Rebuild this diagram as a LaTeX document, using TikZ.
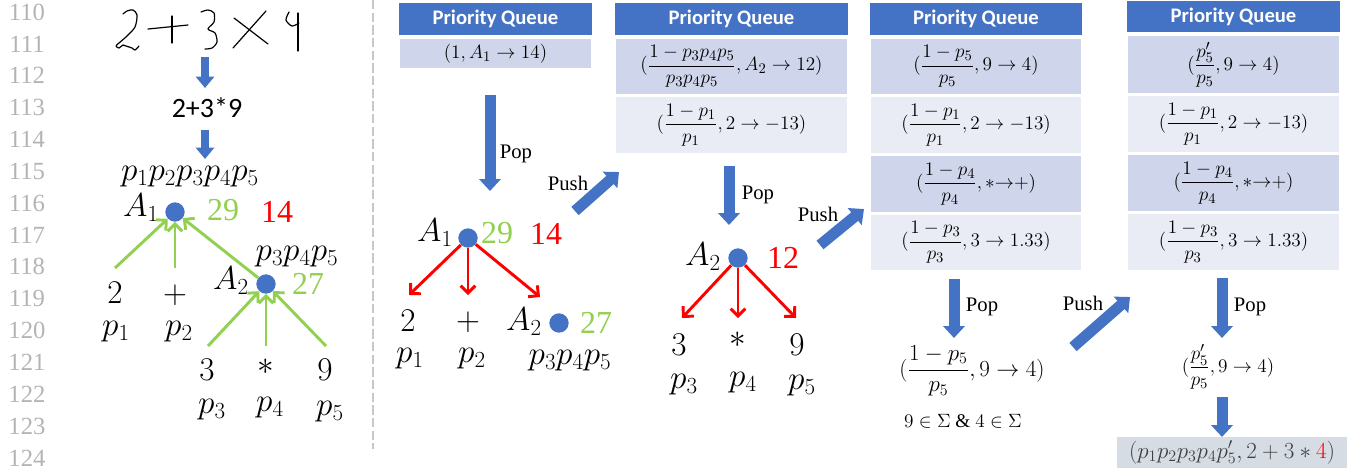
\documentclass[tikz,border=0pt]{standalone}
\usepackage{amsmath}
\usepackage{fontspec}
\setmainfont{Liberation Serif}
\newfontfamily\calfont{Carlito}
\usetikzlibrary{arrows.meta}
\definecolor{oblue}{HTML}{4472C4}
\definecolor{rowdark}{HTML}{CFD5EA}
\definecolor{rowlight}{HTML}{E9EBF5}
\definecolor{ogreen}{HTML}{92D050}
\definecolor{ored}{HTML}{FF0000}
\definecolor{lngray}{HTML}{B4B4B4}
\definecolor{dashgray}{HTML}{C8C8C8}
\definecolor{finfill}{HTML}{D6DCE4}
\definecolor{fintext}{HTML}{404040}
\newcommand{\myfs}[1]{\fontsize{#1}{#1}\selectfont}
\begin{document}
\begin{tikzpicture}[x=0.75pt,y=-0.75pt,
  lnum/.style={text=lngray,font=\myfs{18.5}},
  box/.style 2 args={minimum width={#1*0.75pt},minimum height={#2*0.75pt},inner sep=0pt,outer sep=0pt},
  hdr/.style={fill=oblue,text=white,font=\calfont\bfseries\myfs{15.5}},
  rowd/.style={fill=rowdark,draw=white,line width=0.8pt,font=\myfs{15.8}},
  rowl/.style={fill=rowlight,draw=white,line width=0.8pt,font=\myfs{15.8}},
  blk/.style={line width=8.25pt,draw=oblue,line cap=butt,-{Triangle[width=16pt,length=9pt]}},
  blks/.style={line width=6pt,draw=oblue,line cap=butt,-{Triangle[width=13.5pt,length=8.5pt]}},
  garr/.style={draw=ogreen,line width=2.2pt,-{Straight Barb[length=5.5pt,width=11pt]}},
  rarr/.style={draw=ored,line width=2.2pt,-{Straight Barb[length=5.5pt,width=11pt]}},
  dot/.style={circle,fill=oblue,minimum size=14.5pt,inner sep=0pt},
  tt/.style={font=\myfs{24.5},inner sep=0pt},
  num/.style={font=\myfs{24},inner sep=0pt},
  lbl/.style={font=\myfs{15.5},inner sep=0pt},
  hand/.style={draw=black,line width=0.9pt,line cap=round,line join=round}
]
\useasboundingbox (0,0) rectangle (1347,469);
% line numbers
\foreach \n [count=\i from 0] in {110,...,124}{
  \node[lnum] (ln\n) at (27,{12+31.86*\i}) {\n};
}
% dashed separator
\draw[dashgray,line width=2pt,dash pattern=on 7pt off 2.5pt] (373,0) -- (373,449);

% ---------- left part ----------
% handwriting 2+3x4
\draw[hand] plot[smooth] coordinates {(123,14) (127,11) (133,10) (137,15) (135,27) (127,36) (119,43) (116,46) (119,48) (123,45) (126,46) (132,48) (135,50) (139,46)};
\draw[hand] (148,29) -- (188,25);
\draw[hand] (172,16) -- (172,43);
\draw[hand] plot[smooth] coordinates {(201,12) (208,10) (214,13) (214,22) (208,29) (215,33) (217,42) (212,48) (205,49)};
\draw[hand] (233,48) -- (266,11);
\draw[hand] (234,18) -- (268,44);
\draw[hand] plot[smooth] coordinates {(289,12) (286,20) (292,26) (299,23)};
\draw[hand] (298,13) -- (298,51);

\coordinate (la1s) at (205,57);  \coordinate (la1e) at (205,88);
\draw[blks] (la1s) -- (la1e);
\node[font=\calfont\myfs{21},inner sep=0pt] (expr) at (207,108) {2+3*9};
\coordinate (la2s) at (205,130); \coordinate (la2e) at (205,159);
\draw[blks] (la2s) -- (la2e);

\node[tt] (lprod) at (190,177) {$p_1p_2p_3p_4p_5$};
\node[dot] (lA1d) at (175,212) {};
\node[tt] (lA1) at (141,208) {$A_1$};
\node[num,text=ogreen] (l29) at (223,210) {29};
\node[num,text=ored] (l14) at (277,212) {14};

\node[tt] (l2) at (115,293) {$2$};
\node[tt] (lplus) at (175,295) {$+$};
\node[tt] (lp1) at (116,332) {$p_1$};
\node[tt] (lp2) at (179,332) {$p_2$};

\node[dot] (lA2d) at (266,284) {};
\node[tt] (lA2) at (231,281) {$A_2$};
\node[tt] (lp345) at (297,257) {$p_3p_4p_5$};
\node[num,text=ogreen] (l27) at (308,284) {27};

\node[tt] (l3) at (207,370) {$3$};
\node[tt] (lst) at (266,367) {$*$};
\node[tt] (l9) at (325,370) {$9$};
\node[tt] (lp3) at (212,410) {$p_3$};
\node[tt] (lp4) at (270,408) {$p_4$};
\node[tt] (lp5) at (330,412) {$p_5$};

\coordinate (g1) at (115,268); \coordinate (g2) at (175,268);
\coordinate (g3) at (208,346); \coordinate (g4) at (266,346); \coordinate (g5) at (326,346);
\draw[garr] (g1) -- (lA1d);
\draw[garr] (g2) -- (lA1d);
\draw[garr] (lA2d) -- (lA1d);
\draw[garr] (g3) -- (lA2d);
\draw[garr] (g4) -- (lA2d);
\draw[garr] (g5) -- (lA2d);

% ---------- PQ1 ----------
\node[hdr,box={193}{32}] (pq1h) at (495.5,19) {Priority Queue};
\node[rowd,box={193}{31}] (pq1r1) at (495.5,53.5) {$(1, A_1\to 14)$};
\coordinate (pop1s) at (490,95); \coordinate (pop1e) at (490,191);
\draw[blk] (pop1s) -- (pop1e);
\node[lbl] (pop1) at (516,154) {Pop};
\coordinate (push1s) at (575,211); \coordinate (push1e) at (619,172);
\draw[blk] (push1s) -- (push1e);
\node[lbl] (push1) at (568,183) {Push};

% tree 1
\node[dot] (mA1d) at (468,238) {};
\node[tt] (mA1) at (435,233) {$A_1$};
\node[num,text=ogreen] (m29) at (497,233) {29};
\node[num,text=ored] (m14) at (546,234) {14};
\coordinate (r1) at (409,295); \coordinate (r2) at (468,295); \coordinate (r3) at (540,297);
\draw[rarr] (mA1d) -- (r1);
\draw[rarr] (mA1d) -- (r2);
\draw[rarr] (mA1d) -- (r3);
\node[tt] (m2) at (408,321) {$2$};
\node[tt] (mplus) at (468,322) {$+$};
\node[tt] (mA2) at (524,322) {$A_2$};
\node[dot] (mA2d) at (559,323) {};
\node[num,text=ogreen] (m27) at (596,323) {27};
\node[tt] (mp1) at (410,359) {$p_1$};
\node[tt] (mp2) at (472,359) {$p_2$};
\node[tt] (mp345) at (570,361) {$p_3p_4p_5$};

% ---------- PQ2 ----------
\node[hdr,box={233}{32}] (pq2h) at (731.5,19) {Priority Queue};
\node[rowd,box={233}{57}] (pq2r1) at (731.5,66.5) {$(\dfrac{1-p_3p_4p_5}{p_3p_4p_5}, A_2\to 12)$};
\node[rowl,box={233}{58}] (pq2r2) at (731.5,125) {$(\dfrac{1-p_1}{p_1}, 2\to -13)$};
\coordinate (pop2s) at (729,166); \coordinate (pop2e) at (729,225);
\draw[blk] (pop2s) -- (pop2e);
\node[lbl] (pop2) at (758,195) {Pop};
\coordinate (push2s) at (820,245); \coordinate (push2e) at (864,209);
\draw[blk] (push2s) -- (push2e);
\node[lbl] (push2) at (818,214) {Push};

% tree 2
\node[dot] (nA2d) at (738,258) {};
\node[tt] (nA2) at (703,257) {$A_2$};
\node[num,text=ored] (n12) at (783,258) {12};
\coordinate (s1) at (682,318); \coordinate (s2) at (738,318); \coordinate (s3) at (796,318);
\draw[rarr] (nA2d) -- (s1);
\draw[rarr] (nA2d) -- (s2);
\draw[rarr] (nA2d) -- (s3);
\node[tt] (n3) at (679,345) {$3$};
\node[tt] (nst) at (738,340) {$*$};
\node[tt] (n9) at (797,345) {$9$};
\node[tt] (np3) at (684,385) {$p_3$};
\node[tt] (np4) at (743,383) {$p_4$};
\node[tt] (np5) at (802,386) {$p_5$};

% ---------- PQ3 ----------
\node[hdr,box={212}{32}] (pq3h) at (976,19) {Priority Queue};
\node[rowd,box={212}{57}] (pq3r1) at (976,66.5) {$(\dfrac{1-p_5}{p_5}, 9\to 4)$};
\node[rowl,box={212}{58}] (pq3r2) at (976,125) {$(\dfrac{1-p_1}{p_1}, 2\to -13)$};
\node[rowd,box={212}{58}] (pq3r3) at (976,184) {$(\dfrac{1-p_4}{p_4}, {*}{\to}+)$};
\node[rowl,box={212}{57}] (pq3r4) at (976,242.5) {$(\dfrac{1-p_3}{p_3}, 3\to 1.33)$};
\coordinate (pop3s) at (954,279); \coordinate (pop3e) at (954,338);
\draw[blk] (pop3s) -- (pop3e);
\node[lbl] (pop3) at (982,307) {Pop};
\node[font=\myfs{17},inner sep=0pt] (res3) at (972,371) {$(\dfrac{1-p_5}{p_5}, 9\to 4)$};
\node[font=\myfs{14.5},inner sep=0pt] (sig) at (963,421) {$9\in\Sigma\ \&\ 4\in\Sigma$};
\coordinate (push3s) at (1073,347); \coordinate (push3e) at (1130,297);
\draw[blk] (push3s) -- (push3e);
\node[lbl] (push3) at (1083,303) {Push};

% ---------- PQ4 ----------
\node[hdr,box={213}{31}] (pq4h) at (1233.5,16.5) {Priority Queue};
\node[rowd,box={213}{59}] (pq4r1) at (1233.5,64.5) {$(\dfrac{p'_5}{p_5}, 9\to 4)$};
\node[rowl,box={213}{58}] (pq4r2) at (1233.5,124) {$(\dfrac{1-p_1}{p_1}, 2\to -13)$};
\node[rowd,box={213}{58}] (pq4r3) at (1233.5,183) {$(\dfrac{1-p_4}{p_4}, {*}{\to}+)$};
\node[rowl,box={213}{58}] (pq4r4) at (1233.5,242) {$(\dfrac{1-p_3}{p_3}, 3\to 1.33)$};
\coordinate (pop4s) at (1222,278); \coordinate (pop4e) at (1222,338);
\draw[blk] (pop4s) -- (pop4e);
\node[lbl] (pop4) at (1250,307) {Pop};
\node[font=\myfs{15.5},inner sep=0pt] (res4) at (1228,367) {$(\dfrac{p'_5}{p_5}, 9\to 4)$};
\node[fill=finfill,box={230}{31},text=fintext,font=\myfs{17.5}] (fin) at (1232,452.5) {$(p_1p_2p_3p_4p'_5, 2+3*\textcolor{ored}{4})$};
\coordinate (fa) at (1222,397);
\draw[blk] (fa) -- (fin.north -| fa);
\end{tikzpicture}
\end{document}
